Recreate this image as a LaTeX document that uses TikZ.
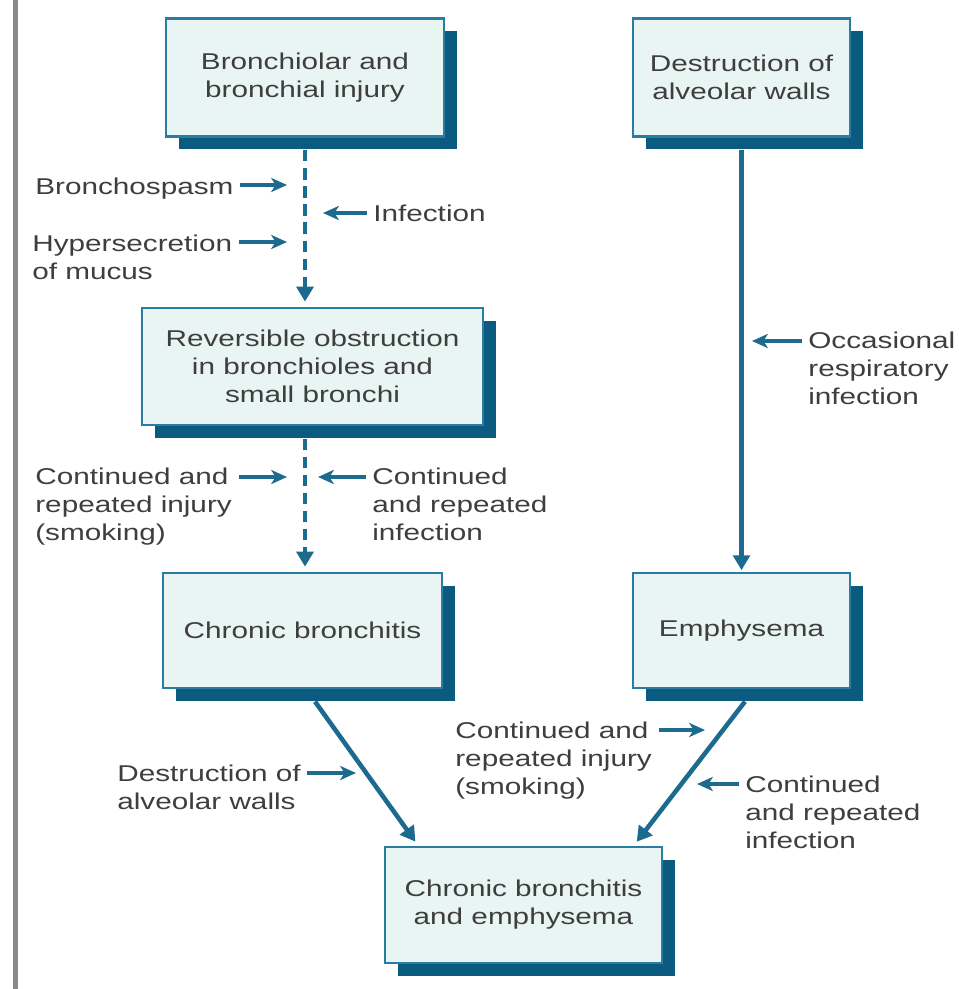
\documentclass[tikz,border=0pt]{standalone}
\usepackage{fontspec}
\setmainfont{Liberation Sans}[FakeStretch=1.3]
\usetikzlibrary{positioning, arrows.meta, shadows}
\definecolor{bxfill}{HTML}{E9F5F3}
\definecolor{bxline}{HTML}{2A7DA2}
\definecolor{bxshadow}{HTML}{0B5A80}
\definecolor{arrblue}{HTML}{1C6B8F}
\definecolor{txtgray}{HTML}{3E3E3E}
\definecolor{rulegray}{HTML}{8A8A8A}

\begin{document}
\begin{tikzpicture}[
    box/.style={draw=bxline, line width=1.2pt, fill=bxfill, text=txtgray, align=center,
                font=\fontsize{13}{15.9}\selectfont, minimum height=2.36cm, inner sep=0pt,
                drop shadow={shadow xshift=0.26cm, shadow yshift=-0.25cm, fill=bxshadow, opacity=1}},
    lbl/.style={text=txtgray, align=left, font=\fontsize{13}{15.9}\selectfont,
                inner sep=0pt, anchor=north west},
    mainarr/.style={draw=arrblue, line width=2.6pt, -{Triangle[length=8.5pt,width=9.5pt]}, shorten >=3pt},
    dasharr/.style={mainarr, dash pattern=on 6.5pt off 3.8pt},
    sidearr/.style={draw=arrblue, line width=2.1pt, -{Stealth[length=9pt,width=8pt,inset=2.5pt]}, shorten <=0.13cm}
  ]
  \useasboundingbox (0,0) rectangle (19.18,-19.78);
  \draw[rulegray, line width=2.6pt] (0.31,0) -- (0.31,-19.78);

  \node[box, minimum width=5.56cm] (b1) at (6.10,-1.55) {Bronchiolar and\\bronchial injury};
  \node[box, minimum width=4.34cm] (b2) at (14.83,-1.55) {Destruction of\\alveolar walls};
  \node[box, minimum width=6.82cm, minimum height=2.34cm] (b3) at (6.25,-7.33)
       {Reversible obstruction\\in bronchioles and\\small bronchi};
  \node[box, minimum width=5.58cm, minimum height=2.30cm] (b4) at (6.05,-12.61) {Chronic bronchitis};
  \node[box, minimum width=4.34cm, minimum height=2.30cm] (b5) at (14.83,-12.61) {Emphysema};
  \node[box, minimum width=5.54cm, minimum height=2.32cm] (b6) at (10.47,-18.10)
       {Chronic bronchitis\\and emphysema};

  \draw[dasharr] ([yshift=-0.25cm]b1.south) -- (b1.south |- b3.north);
  \draw[dasharr] ([yshift=-0.25cm]b3.south -| b1.south) -- (b1.south |- b4.north);
  \draw[mainarr, shorten >=1pt] ([yshift=-0.25cm]b2.south) -- (b5.north);
  \draw[mainarr] ([shift={(0.25,-0.25)}]b4.south) -- ([xshift=-2.1cm]b6.north);
  \draw[mainarr] ([shift={(0.07,-0.25)}]b5.south) -- ([xshift=2.2cm]b6.north);

  \node[lbl] (l1) at (0.70,-3.56) {Bronchospasm};
  \node[lbl] (l2) at (7.46,-4.10) {Infection};
  \node[lbl] (l3) at (0.64,-4.70) {Hypersecretion\\of mucus};
  \node[lbl] (l4) at (0.70,-9.36) {Continued and\\repeated injury\\(smoking)};
  \node[lbl] (l5) at (7.44,-9.36) {Continued\\and repeated\\infection};
  \node[lbl] (l6) at (16.16,-6.64) {Occasional\\respiratory\\infection};
  \node[lbl] (l7) at (2.34,-15.30) {Destruction of\\alveolar walls};
  \node[lbl] (l8) at (9.10,-14.44) {Continued and\\repeated injury\\(smoking)};
  \node[lbl] (l9) at (14.90,-15.52) {Continued\\and repeated\\infection};

  \coordinate (p1) at (5.74,-3.70);
  \coordinate (p2) at (6.46,-4.26);
  \coordinate (p3) at (5.74,-4.84);
  \coordinate (p4) at (5.74,-9.54);
  \coordinate (p5) at (6.36,-9.54);
  \coordinate (p6) at (15.04,-6.82);
  \coordinate (p7) at (7.12,-15.46);
  \coordinate (p8) at (14.10,-14.60);
  \coordinate (p9) at (13.94,-15.68);

  \draw[sidearr] (l1.east |- p1) -- (p1);
  \draw[sidearr] (l2.west |- p2) -- (p2);
  \draw[sidearr] (l3.east |- p3) -- (p3);
  \draw[sidearr] (l4.east |- p4) -- (p4);
  \draw[sidearr] (l5.west |- p5) -- (p5);
  \draw[sidearr] (l6.west |- p6) -- (p6);
  \draw[sidearr] (l7.east |- p7) -- (p7);
  \draw[sidearr] (l8.east |- p8) -- (p8);
  \draw[sidearr] (l9.west |- p9) -- (p9);
\end{tikzpicture}
\end{document}
